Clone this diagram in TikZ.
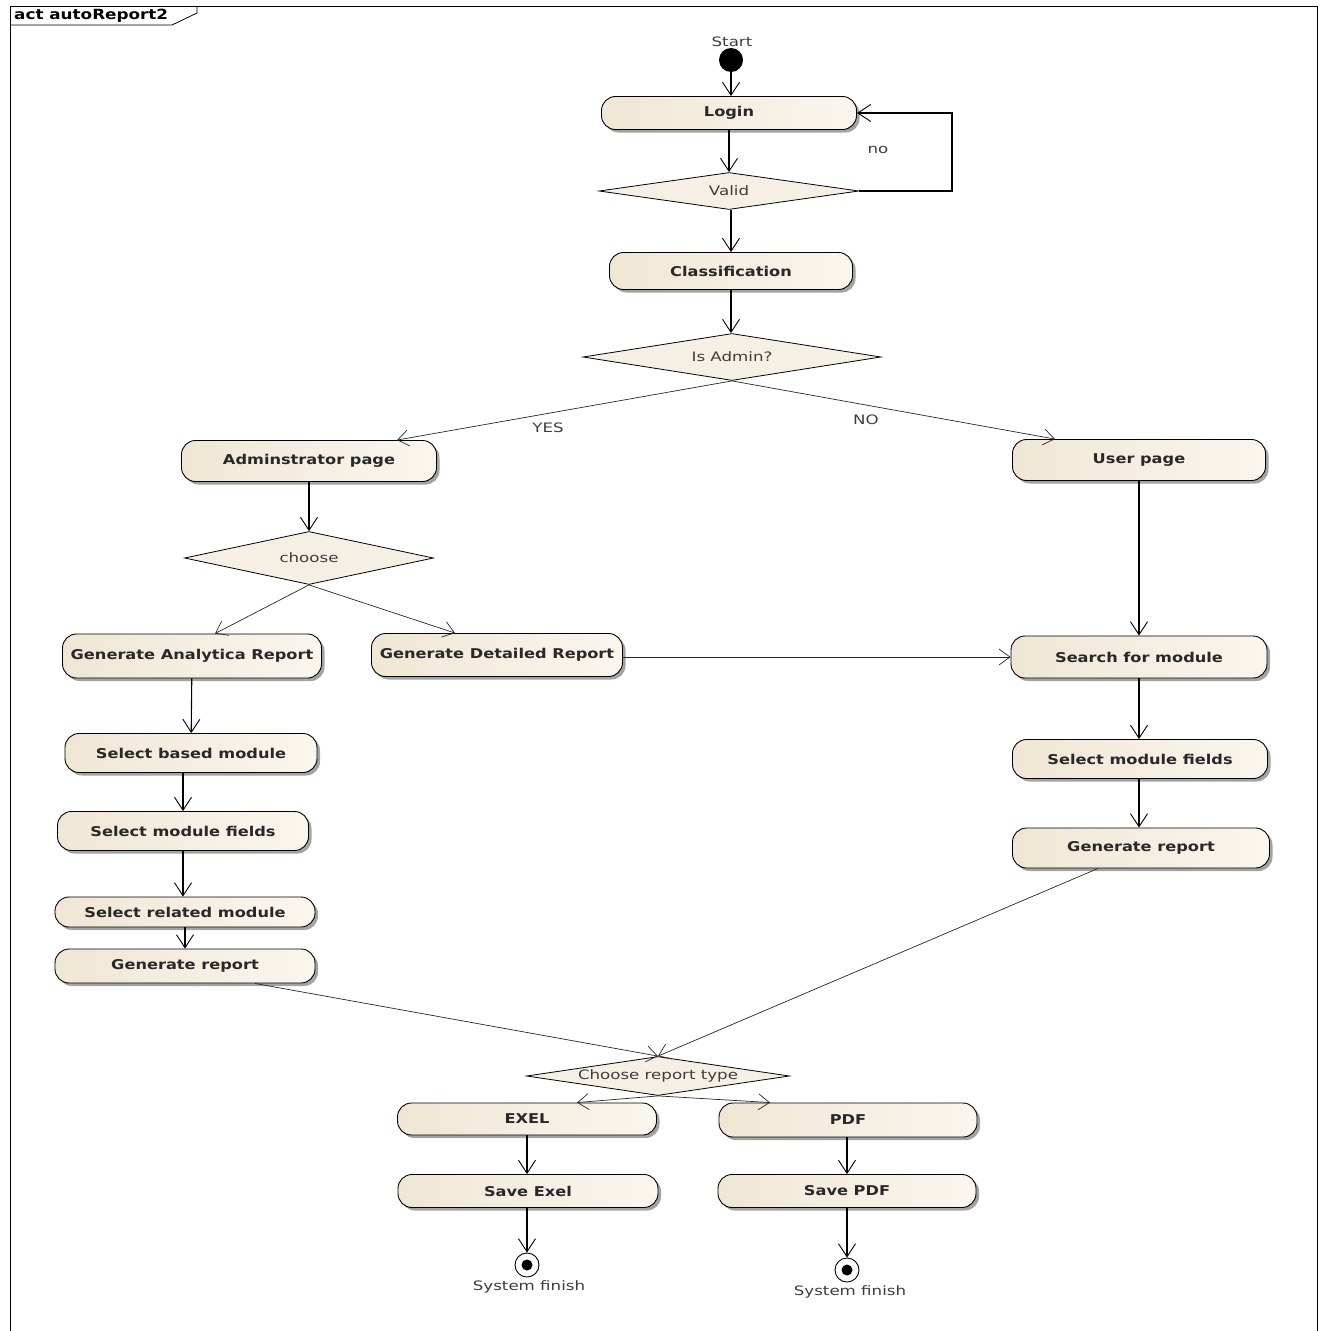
\documentclass[tikz,border=0pt]{standalone}
\usepackage{fontspec}
\newfontfamily\uibold[FakeStretch=1.2]{DejaVu Sans Bold}
\newfontfamily\uireg[FakeStretch=1.28]{DejaVu Sans}
\usetikzlibrary{arrows.meta,shapes.geometric,shadows}
\definecolor{cream}{RGB}{240,230,212}
\definecolor{creamlt}{RGB}{250,246,238}
\definecolor{inktext}{RGB}{40,40,40}
\definecolor{labeltext}{RGB}{60,60,60}
\begin{document}
\begin{tikzpicture}[x=1pt,y=-1pt,
  act/.style={rectangle, rounded corners=14pt, draw=black, line width=0.9pt,
    left color=cream, right color=creamlt, inner sep=0pt,
    drop shadow={shadow xshift=3pt, shadow yshift=-3pt, fill=black!60, opacity=0.6},
    font=\uibold\fontsize{13.5}{15}\selectfont, text=inktext},
  decision/.style={diamond, draw=black, line width=0.8pt, fill=creamlt!60!cream,
    inner sep=0pt, font=\uireg\fontsize{13}{15}\selectfont, text=labeltext},
  lbl/.style={font=\uireg\fontsize{13}{15}\selectfont, text=labeltext, inner sep=1pt},
  flow/.style={draw=black, line width=1.1pt, -{Straight Barb[length=13pt,width=17pt,line width=0.9pt]}},
  thin/.style={draw=black!85, line width=0.7pt, -{Straight Barb[length=11pt,width=16pt,line width=0.7pt]}},
  initial/.style={circle, fill=black, minimum size=24pt, inner sep=0pt},
  final/.style={circle, draw=black, line width=0.9pt, fill=white, minimum size=24pt, inner sep=0pt,
    path picture={\fill[black] (path picture bounding box.center) circle (5.5pt);}}
]
\useasboundingbox (0,0) rectangle (1322,1331);

% diagram frame and its name tab
\draw[line width=1pt] (10,1331) -- (10,6) -- (1317,6) -- (1317,1331);
\draw[line width=0.8pt] (10,25) -- (172,25) -- (197,13) -- (197,6);
\node[anchor=west, font=\uibold\fontsize{14}{16}\selectfont, inner sep=0pt] (frametitle) at (14,16) {act autoReport2};

% start and login
\node[initial] (start) at (731,60) {};
\node[lbl] (startlbl) at (732,42) {Start};
\node[act, minimum width=255pt, minimum height=33pt] (login) at (729,113) {Login};
\node[decision, minimum width=260pt, minimum height=37pt, aspect=7] (valid) at (729,191) {Valid};
\coordinate (loopx) at (952,0);
\node[lbl] (nolbl) at (878,150) {no};

\node[act, minimum width=243pt, minimum height=37pt] (classif) at (731,271) {Classification};
\node[decision, minimum width=298pt, minimum height=47pt, aspect=7] (isadmin) at (732,357) {Is Admin?};
\node[lbl] (yeslbl) at (548,428) {YES};
\node[lbl] (nolbl2) at (866,420) {NO};

% administrator branch
\node[act, minimum width=255pt, minimum height=41pt] (adminpage) at (309,461) {Adminstrator page};
\node[decision, minimum width=249pt, minimum height=53pt, aspect=5] (choose) at (309,558) {choose};
\node[act, minimum width=259pt, minimum height=44pt] (gar) at (192,656) {Generate Analytica Report};
\node[act, minimum width=251pt, minimum height=43pt] (gdr) at (497,655) {Generate Detailed Report};
\node[act, minimum width=252pt, minimum height=39pt] (sbm) at (191,753) {Select based module};
\node[act, minimum width=251pt, minimum height=39pt] (smfl) at (183,831) {Select module fields};
\node[act, minimum width=260pt, minimum height=30pt] (srm) at (185,912) {Select related module};
\node[act, minimum width=260pt, minimum height=34pt] (grl) at (185,966) {Generate report};

% user branch
\node[act, minimum width=253pt, minimum height=41pt] (userpage) at (1139,460) {User page};
\node[act, minimum width=256pt, minimum height=42pt] (search) at (1139,657) {Search for module};
\node[act, minimum width=255pt, minimum height=39pt] (smfr) at (1140,759) {Select module fields};
\node[act, minimum width=257pt, minimum height=40pt] (grr) at (1141,848) {Generate report};

% report type and output
\node[decision, minimum width=263pt, minimum height=39pt, aspect=7] (rtype) at (658,1076) {Choose report type};
\node[act, minimum width=259pt, minimum height=32pt] (exel) at (527,1119) {EXEL};
\node[act, minimum width=258pt, minimum height=34pt] (pdf) at (848,1120) {PDF};
\node[act, minimum width=260pt, minimum height=33pt] (saveexel) at (528,1191) {Save Exel};
\node[act, minimum width=258pt, minimum height=33pt] (savepdf) at (847,1191) {Save PDF};
\node[final] (endl) at (527,1265) {};
\node[lbl] (endllbl) at (529,1287) {System finish};
\node[final] (endr) at (847,1270) {};
\node[lbl] (endrlbl) at (850,1292) {System finish};

% control flow
\draw[flow] (start) -- (start |- login.north);
\draw[flow] (login) -- (valid);
\draw[flow] (valid.east) -- (valid.east -| loopx) |- (login.east);
\draw[flow] (valid.south -| classif) -- (classif.north);
\draw[flow] (classif.south) -- (classif.south |- isadmin.north);
\draw[thin] (isadmin.south) -- ([xshift=88pt]adminpage.north);
\draw[thin] (isadmin.south) -- ([xshift=-84pt]userpage.north);
\draw[flow] (adminpage) -- (choose);
\draw[thin] (choose.south) -- ([xshift=23pt]gar.north);
\draw[thin] (choose.south) -- ([xshift=-42pt]gdr.north);
\draw[thin] (gdr.east |- search) -- (search.west);
\draw[flow] (userpage) -- (search);
\draw[flow] (gar) -- (sbm);
\draw[flow] (sbm.south -| smfl) -- (smfl.north);
\draw[flow] (smfl.south) -- (smfl.south |- srm.north);
\draw[flow] (srm) -- (grl);
\draw[flow] (search.south) -- (search.south |- smfr.north);
\draw[flow] (search.south |- smfr.south) -- (search.south |- grr.north);
\draw[thin] ([xshift=70pt]grl.south) -- (rtype.north);
\draw[thin] ([xshift=-43pt]grr.south) -- (rtype.north);
\draw[thin] (rtype.south) -- ([xshift=50pt]exel.north);
\draw[thin] (rtype.south) -- ([xshift=-78pt]pdf.north);
\draw[flow] (exel) -- (saveexel.north -| exel);
\draw[flow] (pdf.south -| savepdf) -- (savepdf.north);
\draw[flow] (saveexel.south -| endl) -- (endl);
\draw[flow] (savepdf) -- (endr);
\end{tikzpicture}
\end{document}
